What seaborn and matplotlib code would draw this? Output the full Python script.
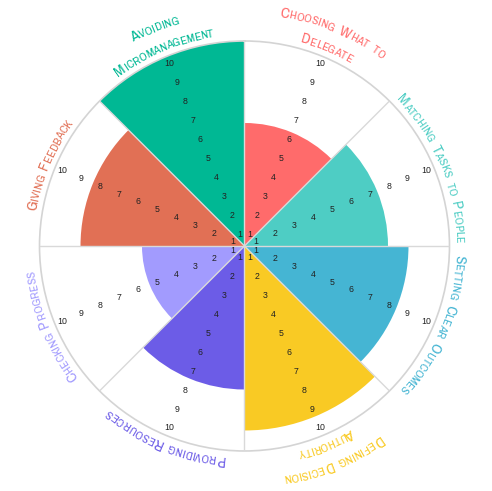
import numpy as np
import matplotlib
matplotlib.use("Agg")
import matplotlib.pyplot as plt
import seaborn as sns
from matplotlib import font_manager
from matplotlib.font_manager import FontProperties

# Data (clockwise from the top)
categories = ["Choosing What to\nDelegate", "Matching Tasks to People", "Setting Clear Outcomes",
              "Defining Decision\nAuthority", "Providing Resources", "Checking Progress",
              "Giving Feedback", "Avoiding\nMicromanagement"]
scores = [6, 7, 8, 9, 7, 5, 8, 10]
colors = ["#FF6B6B", "#4ECDC4", "#45B5D3", "#F9CA24", "#6C5CE7", "#A29BFE", "#E17055", "#00B894"]
ticks = list(range(1, 11))

sns.set_theme(style="white")

# narrow font for the hand-lettered labels, if one is installed
narrow = []
for f in font_manager.fontManager.ttflist:
    st = str(f.stretch)
    if f.style != "normal":
        continue
    if "Narrow" in f.name or "Condensed" in f.name or "condensed" in st:
        w = f.weight if isinstance(f.weight, int) else 400
        narrow.append((abs(w - 350), f.name, f.fname))
narrow.sort()
if narrow:
    label_fp = dict(fname=narrow[0][2])
    shrink = 1.0
else:
    label_fp = dict(family="DejaVu Sans")
    shrink = 0.78

names = {f.name for f in font_manager.fontManager.ttflist}
num_font = "Liberation Sans" if "Liberation Sans" in names else "DejaVu Sans"

fig = plt.figure(figsize=(4.92, 4.91), dpi=100)
ax = fig.add_axes([0.0803, 0.0815, 0.8333, 0.835], projection="polar")
ax.set_theta_zero_location("N")
ax.set_theta_direction(-1)

n = len(categories)
width = 2 * np.pi / n
edges = np.arange(n) * width
mids = edges + width / 2

ax.bar(edges, scores, width=width, align="edge", color=colors, edgecolor="none", linewidth=0)

ax.set_ylim(0, 10)
ax.set_yticks([])
ax.set_xticks(edges)
ax.set_xticklabels([])
ax.grid(True, color="#d9d9d9", linewidth=1)
ax.set_axisbelow(False)
ax.spines["polar"].set_color("#d4d4d4")
ax.spines["polar"].set_linewidth(1.2)

# scale numbers along each sector's middle
for m in mids:
    for k in ticks:
        ax.text(m, k - 0.39, str(k), ha="center", va="center", fontsize=6.3,
                color="#222222", family=num_font, zorder=4)

# curved category labels
unit = 410 / 2 / 10  # pixels per score unit
renderer = fig.canvas.get_renderer()


def props(size):
    return FontProperties(size=size, **label_fp)


def char_width(ch, size):
    if ch == " ":
        return 0.5 * size * 100 / 72
    return renderer.get_text_width_height_descent(ch, props(size), ismath=False)[0]


def arc_text(text, mid_deg, r_px, color, big=11.0, small=8.5, track=0.0):
    big, small = big * shrink, small * shrink
    chars = [(c.upper(), big if c.isupper() else small) for c in text]
    widths = [char_width(c, s) + track for c, s in chars]
    pos = -sum(widths) / 2
    for (c, s), w in zip(chars, widths):
        ang = mid_deg + np.degrees((pos + w / 2) / r_px)
        if c != " ":
            ax.text(np.radians(ang), r_px / unit, c, rotation=-ang, rotation_mode="anchor",
                    ha="center", va="baseline", color=color, fontproperties=props(s),
                    clip_on=False, zorder=5)
        pos += w


for name, m, col in zip(categories, mids, colors):
    lines = name.split("\n")
    radii = [211] if len(lines) == 1 else [232, 211]
    for line, r in zip(lines, radii):
        arc_text(line, np.degrees(m), r, col)

fig.savefig("out.png", dpi=100)
